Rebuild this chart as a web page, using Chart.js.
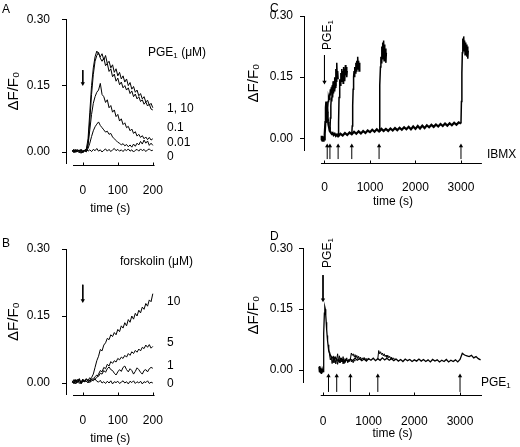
<!DOCTYPE html>
<html>
<head>
<meta charset="utf-8">
<script src="https://cdn.jsdelivr.net/npm/chart.js@4.4.0/dist/chart.umd.min.js"></script>
<style>
  body { margin:0; background:#fff; }
  #wrap { position:relative; width:520px; height:447px; font-family:"Liberation Sans", Arial, sans-serif; font-size:12px; color:#000; }
  .box { position:absolute; }
  .lbl { position:absolute; white-space:nowrap; line-height:1; transform:translateY(-50%); }
  .rot { position:absolute; white-space:nowrap; line-height:1; transform:translate(-50%,-50%) rotate(-90deg); }
  sub { font-size:8px; vertical-align:-2px; line-height:0; }
</style>
</head>
<body>
<div id="wrap">
  <div class="box" style="left:0;top:0"><canvas id="chartA" width="240" height="223"></canvas></div>
  <div class="box" style="left:0;top:223px"><canvas id="chartB" width="240" height="224"></canvas></div>
  <div class="box" style="left:240px;top:0"><canvas id="chartC" width="280" height="223"></canvas></div>
  <div class="box" style="left:240px;top:223px"><canvas id="chartD" width="280" height="224"></canvas></div>

  <span class="lbl" style="left:2px;top:9px">A</span>
  <span class="lbl" style="left:2px;top:243px">B</span>
  <span class="lbl" style="left:270px;top:8px">C</span>
  <span class="lbl" style="left:270px;top:236px">D</span>

  <span class="lbl" style="left:148px;top:52px">PGE<sub>1</sub> (μM)</span>
  <span class="lbl" style="left:167px;top:108px">1, 10</span>
  <span class="lbl" style="left:167px;top:127px">0.1</span>
  <span class="lbl" style="left:167px;top:142px">0.01</span>
  <span class="lbl" style="left:167px;top:156px">0</span>

  <span class="lbl" style="left:120px;top:261px">forskolin (μM)</span>
  <span class="lbl" style="left:167px;top:301px">10</span>
  <span class="lbl" style="left:167px;top:342px">5</span>
  <span class="lbl" style="left:167px;top:365px">1</span>
  <span class="lbl" style="left:167px;top:383px">0</span>

  <span class="rot" style="left:327px;top:35px">PGE<sub>1</sub></span>
  <span class="lbl" style="left:487px;top:154px">IBMX</span>
  <span class="rot" style="left:327px;top:253px">PGE<sub>1</sub></span>
  <span class="lbl" style="left:481px;top:382px">PGE<sub>1</sub></span>
</div>
<script>
// ---- panel A: PGE1 dose response ----
var tA = [-30,-25,-20,-15,-10,-5,0,5,10,15,20,25,30,35,40,45,50,55,60,65,70,75,80,85,90,95,100,105,110,115,120,125,130,135,140,145,150,155,160,165,170,175,180,185,190,195,200];
var a10 = [0.004,-0.002,0.006,0.0,0.005,-0.003,0.004,0.002,0.006,
  0.03,0.09,0.15,0.19,0.215,0.228,0.222,0.215,0.222,0.208,0.218,0.2,0.205,0.19,0.197,0.18,0.188,0.172,0.18,0.165,0.172,0.158,0.165,0.15,0.157,0.142,0.148,0.135,0.14,0.127,0.132,0.12,0.125,0.113,0.117,0.106,0.11,0.1];
var a1 = [0.002,0.005,-0.001,0.004,0.001,0.006,-0.002,0.003,0.005,
  0.02,0.07,0.13,0.175,0.205,0.218,0.225,0.212,0.205,0.212,0.195,0.2,0.182,0.188,0.17,0.176,0.16,0.167,0.152,0.158,0.145,0.15,0.14,0.145,0.132,0.138,0.125,0.131,0.12,0.125,0.114,0.118,0.108,0.113,0.104,0.108,0.097,0.095];
var a01 = [0.003,0.0,0.005,0.002,-0.002,0.004,0.001,0.003,0.0,
  0.015,0.05,0.085,0.11,0.125,0.135,0.14,0.155,0.13,0.125,0.112,0.118,0.1,0.105,0.09,0.095,0.08,0.085,0.07,0.075,0.062,0.066,0.055,0.058,0.048,0.052,0.042,0.046,0.036,0.04,0.033,0.037,0.03,0.034,0.028,0.033,0.027,0.03];
var a001 = [0.001,0.004,0.0,0.005,0.002,0.003,-0.001,0.004,0.002,
  0.008,0.02,0.035,0.048,0.057,0.063,0.068,0.06,0.055,0.05,0.045,0.047,0.04,0.042,0.034,0.03,0.026,0.022,0.02,0.016,0.019,0.014,0.017,0.012,0.016,0.011,0.018,0.013,0.02,0.016,0.024,0.018,0.027,0.02,0.025,0.015,0.02,0.015];
var a0 = [0.003,0.006,0.001,0.005,0.002,0.006,0.0,0.004,0.007,0.002,0.005,0.001,0.006,0.003,0.008,0.002,0.005,0.0,0.004,0.007,
  0.002,0.006,0.001,0.005,0.008,0.003,0.006,0.002,0.005,0.001,0.006,0.003,0.007,0.002,0.005,0.0,0.004,0.006,0.002,0.007,
  0.003,0.006,0.001,0.005,0.007,0.003,0.004];

// ---- panel B: forskolin dose response (same time points) ----
var b10 = [0.002,0.008,-0.002,0.006,0.01,0.0,0.007,0.003,0.009,0.004,0.006,
  0.012,0.02,0.035,0.05,0.06,0.075,0.072,0.085,0.09,0.1,0.097,0.108,0.104,0.113,0.108,0.12,0.115,0.128,0.123,0.135,0.128,0.142,0.136,0.15,0.143,0.156,0.15,0.163,0.157,0.17,0.165,0.178,0.172,0.186,0.182,0.2];
var b5 = [0.005,-0.002,0.008,0.001,0.006,-0.001,0.009,0.003,0.005,0.0,0.007,0.004,0.008,0.01,
  0.012,0.02,0.028,0.025,0.035,0.032,0.042,0.038,0.048,0.044,0.05,0.047,0.055,0.052,0.058,0.055,0.062,0.058,0.066,0.062,0.07,0.066,0.073,0.069,0.076,0.072,0.08,0.077,0.085,0.08,0.086,0.078,0.082];
var b1 = [0.0,0.006,0.002,0.008,-0.001,0.005,0.002,0.007,0.003,0.006,0.001,0.008,0.01,0.014,0.018,
  0.015,0.022,0.02,0.028,0.024,0.032,0.036,0.03,0.028,0.022,0.018,0.025,0.03,0.026,0.035,0.038,0.03,0.025,0.032,0.028,0.02,0.026,0.034,0.03,0.024,0.02,0.028,0.03,0.025,0.032,0.035,0.033];
var b0 = [0.004,0.0,0.007,0.002,0.009,-0.002,0.005,0.003,0.01,0.006,0.012,0.008,0.005,0.009,0.004,0.002,0.006,0.0,0.003,-0.001,
  0.004,0.0,0.005,-0.002,0.003,0.001,0.004,-0.001,0.002,0.005,0.0,0.003,-0.002,0.004,0.001,0.005,-0.001,0.003,0.0,0.004,
  -0.002,0.003,0.001,0.005,-0.001,0.002,0.0];

// ---- panel C: PGE1 then IBMX at different delays ----
var cBaseT = [-70,-60,-50,-40,-30,-20,-10,0,10,20,30,40,50,60,70,80,90,100,110,120,140,160,180,200,225,250,275,300,
  350,400,450,500,550,600,650,700,750,800,850,900,950,1000,1050,1100,1150,1200,1250,1300,1350,1400,1450,1500,1550,1600,1650,1700,1750,1800,
  1850,1900,1950,2000,2050,2100,2150,2200,2250,2300,2350,2400,2450,2500,2550,2600,2650,2700,2750,2800,2850,2900,2950,3000];
var cBaseV = [-0.005,0.006,-0.004,0.005,-0.006,0.004,-0.003,0.002,0.01,0.04,0.075,0.09,0.08,0.065,0.05,0.04,0.032,0.027,0.022,0.018,0.014,0.011,0.013,0.008,0.011,0.006,0.009,0.005,
  0.011,0.007,0.013,0.008,0.014,0.01,0.016,0.011,0.017,0.012,0.018,0.013,0.019,0.015,0.021,0.016,0.022,0.017,0.023,0.018,0.023,0.018,0.024,0.019,0.025,0.02,0.026,0.021,0.027,0.022,
  0.028,0.022,0.029,0.023,0.03,0.024,0.031,0.025,0.032,0.027,0.033,0.028,0.034,0.029,0.035,0.03,0.036,0.031,0.037,0.032,0.038,0.033,0.039,0.036];
var c60T = [60,70,80,90,100,110,120,130,140,150,160,170,180,190,200,210,220,230,240,250];
var c60V = [0.065,0.075,0.09,0.1,0.095,0.11,0.1,0.12,0.105,0.125,0.11,0.13,0.115,0.14,0.12,0.135,0.115,0.145,0.125,0.14];
var c120T = [120,130,140,150,160,170,180,190,200,210,220,230,240,250,260,270,280,290,300];
var c120V = [0.018,0.05,0.08,0.1,0.09,0.115,0.1,0.13,0.11,0.14,0.12,0.15,0.13,0.17,0.14,0.185,0.15,0.165,0.145];
var c300T = [300,310,320,330,340,350,360,370,380,390,400,410,420,430,440,450,460,470,480,490,500];
var c300V = [0.005,0.04,0.1,0.13,0.145,0.13,0.16,0.14,0.17,0.145,0.165,0.135,0.175,0.15,0.17,0.14,0.18,0.155,0.175,0.15,0.165];
var c600T = [600,610,620,630,640,650,660,670,680,690,700,710,720,730,740,750,760,770,780];
var c600V = [0.01,0.03,0.08,0.12,0.15,0.165,0.15,0.175,0.16,0.185,0.165,0.19,0.17,0.2,0.175,0.19,0.165,0.185,0.17];
var c1200T = [1200,1210,1220,1230,1240,1250,1260,1270,1280,1290,1300,1310,1320,1330,1340,1350,1360];
var c1200V = [0.017,0.06,0.13,0.175,0.2,0.185,0.225,0.195,0.235,0.2,0.24,0.19,0.23,0.2,0.22,0.185,0.21];
var c3000T = [3000,3010,3020,3030,3040,3050,3060,3070,3080,3090,3100,3110,3120,3130,3140,3150,3160];
var c3000V = [0.036,0.09,0.16,0.21,0.245,0.225,0.25,0.215,0.24,0.205,0.235,0.21,0.23,0.2,0.225,0.195,0.215];
var cIbmxT = [60,120,300,600,1200,3000];

// ---- panel D: PGE1 then second PGE1 at different delays ----
var dMainT = [-90,-80,-70,-60,-50,-40,-30,-20,-10,0,10,20,30,40,50,60,70,80,90,100,110,120,130,140,150,175,200,225,250,275,300,
  350,400,450,500,550,600,650,700,750,800,850,900,950,1000,1050,1100,1150,1200,1250,1300,1350,1400,1450,1500,1550,1600,1650,1700,1750,1800,
  1850,1900,1950,2000,2050,2100,2150,2200,2250,2300,2350,2400,2450,2500,2550,2600,2650,2700,2750,2800,2850,2900,2950,3000,3050,3100,3150,3200,3250,3300,3350,3400,3450];
var dMainV = [0.008,-0.004,0.01,-0.006,0.006,-0.008,0.004,-0.005,0.0,-0.004,0.03,0.09,0.14,0.155,0.15,0.135,0.118,0.1,0.085,0.072,0.062,0.054,0.048,0.043,0.04,0.034,0.03,0.033,0.027,0.031,0.026,
  0.022,0.028,0.02,0.026,0.021,0.027,0.023,0.029,0.024,0.028,0.023,0.027,0.022,0.028,0.024,0.029,0.023,0.028,0.024,0.03,0.025,0.029,0.024,0.028,0.023,0.027,0.022,0.026,0.021,0.027,
  0.023,0.026,0.021,0.025,0.022,0.027,0.022,0.026,0.021,0.025,0.02,0.026,0.022,0.025,0.02,0.024,0.021,0.026,0.02,0.024,0.021,0.025,0.02,0.026,0.041,0.037,0.035,0.033,0.036,0.03,0.033,0.028,0.025];
var d120T = [120,140,160,180,200,220,240,260,280,300,320,340,360,380,400,420,440,460,480,500];
var d120V = [0.054,0.04,0.025,0.032,0.016,0.03,0.018,0.033,0.015,0.028,0.014,0.026,0.018,0.03,0.02,0.027,0.015,0.024,0.019,0.022];
var d300T = [300,320,340,360,380,400,420,440,460,480,500,520,540,560,580,600,620,640,660,680,700];
var d300V = [0.026,0.04,0.022,0.035,0.018,0.03,0.02,0.033,0.017,0.028,0.022,0.03,0.018,0.026,0.021,0.029,0.02,0.025,0.018,0.024,0.022];
var d600T = [600,620,640,660,680,700,720,740,760,780,800,820,840,860,880,900,920,940,960,980,1000];
var d600V = [0.027,0.042,0.036,0.04,0.033,0.038,0.03,0.036,0.028,0.034,0.027,0.032,0.025,0.03,0.026,0.031,0.024,0.029,0.025,0.028,0.026];
var d1200T = [1200,1220,1240,1260,1280,1300,1320,1340,1360,1380,1400,1420,1440,1460,1480,1500,1520,1540,1560,1580,1600];
var d1200V = [0.028,0.048,0.04,0.045,0.038,0.042,0.035,0.04,0.033,0.037,0.031,0.036,0.03,0.034,0.028,0.032,0.027,0.03,0.026,0.028,0.025];
var dPgeT = [120,300,600,1200,3000];

var yTicks = [0, 0.15, 0.30];
var shortTicks = [0, 100, 200];
var longTicks = [0, 1000, 2000, 3000];

Chart.defaults.font.family = '"Liberation Sans", Arial, sans-serif';
Chart.defaults.font.size = 12;
Chart.defaults.color = '#000';

function pts(t, v) {
  return t.map(function(x, i) { return {x: x, y: v[i]}; });
}
function trace(t, v, w) {
  return { data: pts(t, v), borderColor: '#000', borderWidth: w || 1, pointRadius: 0 };
}
function arrow(x, y0, y1, down) {
  return {
    data: [{x: x, y: y0}, {x: x, y: y1}],
    borderColor: '#000', borderWidth: 1,
    pointRadius: [0, 2.5], pointStyle: 'triangle', pointRotation: down ? 180 : 0,
    pointBackgroundColor: '#000', pointBorderWidth: 0, clip: false
  };
}

// x axis is drawn a little apart from the y axis, ticks pointing up
var xLine = {
  id: 'xLine',
  afterDraw: function(chart, args, o) {
    var ctx = chart.ctx, area = chart.chartArea, x = chart.scales.x;
    var y = Math.round(area.bottom + o.gap) + 0.5;
    ctx.save();
    ctx.strokeStyle = '#000';
    ctx.lineWidth = 1;
    ctx.beginPath();
    ctx.moveTo(x.getPixelForValue(o.from), y);
    ctx.lineTo(area.right, y);
    x.ticks.forEach(function(t) {
      var px = Math.round(x.getPixelForValue(t.value)) + 0.5;
      ctx.moveTo(px, y);
      ctx.lineTo(px, y - 3);
    });
    ctx.stroke();
    ctx.restore();
  }
};

function panel(id, p) {
  return new Chart(document.getElementById(id), {
    type: 'line',
    data: { datasets: p.datasets },
    options: {
      responsive: false,
      animation: false,
      events: [],
      layout: { padding: p.pad },
      elements: { line: { tension: 0 } },
      plugins: { legend: { display: false }, tooltip: { enabled: false }, xLine: p.xLine },
      scales: {
        x: {
          type: 'linear', min: p.xMin, max: p.xMax,
          afterBuildTicks: function(s) { s.ticks = p.xTicks.map(function(v) { return {value: v}; }); },
          afterFit: function(s) { s.height = p.xH; },
          grid: { display: false },
          border: { display: false },
          ticks: { padding: p.xPad, callback: function(v) { return String(v); } },
          title: { display: true, text: 'time (s)', padding: 0 }
        },
        y: {
          type: 'linear', min: p.yMin, max: 0.30,
          afterBuildTicks: function(s) { s.ticks = yTicks.map(function(v) { return {value: v}; }); },
          afterFit: function(s) { s.width = p.yW; },
          grid: { drawOnChartArea: false, color: '#000', tickLength: 4 },
          border: { display: true, color: '#000', width: 1 },
          ticks: { padding: p.yPad, callback: function(v) { return v.toFixed(2); } },
          title: { display: true, text: 'ΔF/F₀', padding: 0, font: { size: 15 } }
        }
      }
    },
    plugins: [xLine]
  });
}

panel('chartA', {
  pad: { left: 5, top: 19, right: 85.45, bottom: 6.8 },
  xMin: -48, xMax: 205, xTicks: shortTicks, xH: 53.1, xPad: 12.8,
  yMin: -0.025, yW: 61, yPad: 12,
  xLine: { gap: 2, from: -28 },
  datasets: [trace(tA, a0), trace(tA, a001), trace(tA, a01), trace(tA, a1), trace(tA, a10),
    arrow(0, 0.185, 0.155, true)]
});

panel('chartB', {
  pad: { left: 5, top: 26, right: 85.45, bottom: 0.8 },
  xMin: -48, xMax: 205, xTicks: shortTicks, xH: 52, xPad: 11.6,
  yMin: -0.025, yW: 61, yPad: 12,
  xLine: { gap: 1, from: -28 },
  datasets: [trace(tA, b0), trace(tA, b1), trace(tA, b5), trace(tA, b10),
    arrow(0, 0.22, 0.185, true)]
});

var cSets = [trace(cBaseT, cBaseV, 2.2), trace(c60T, c60V, 1.5), trace(c120T, c120V, 1.5), trace(c300T, c300V, 1.5),
  trace(c600T, c600V, 1.5), trace(c1200T, c1200V, 1.5), trace(c3000T, c3000V, 1.5), arrow(0, 0.204, 0.138, true)];
cIbmxT.forEach(function(t) { cSets.push(arrow(t, -0.051, -0.019, false)); });
panel('chartC', {
  pad: { left: 5, top: 16, right: 38.1, bottom: 14.1 },
  xMin: -450, xMax: 3460, xTicks: longTicks, xH: 58.8, xPad: 22.7,
  yMin: -0.029, yW: 59, yPad: 7,
  xLine: { gap: 13, from: -77 },
  datasets: cSets
});

var dSets = [trace(dMainT, dMainV, 1.3), trace(d120T, d120V), trace(d300T, d300V), trace(d600T, d600V),
  trace(d1200T, d1200V), arrow(0, 0.234, 0.173, true)];
dPgeT.forEach(function(t) { dSets.push(arrow(t, -0.054, -0.015, false)); });
panel('chartD', {
  pad: { left: 5, top: 25.3, right: 38, bottom: 5.8 },
  xMin: -438, xMax: 3481, xTicks: longTicks, xH: 59, xPad: 24.6,
  yMin: -0.03, yW: 58, yPad: 6,
  xLine: { gap: 13, from: -50 },
  datasets: dSets
});
</script>
</body>
</html>
